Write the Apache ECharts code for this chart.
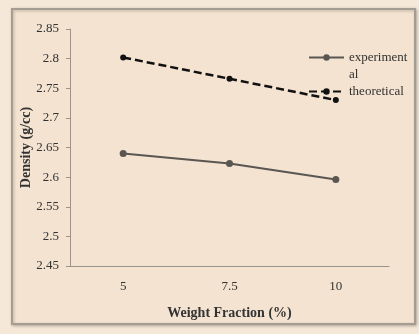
<!DOCTYPE html>
<html>
<head>
<meta charset="utf-8">
<script src="https://cdn.jsdelivr.net/npm/echarts@6/dist/echarts.min.js"></script>
<style>
  html, body { margin: 0; padding: 0; background: #f6e8d8; }
  #chart { width: 419px; height: 334px; }
</style>
</head>
<body>
<div id="chart"></div>
<script>
// Weight fraction categories (%)
const weightFractions = ['5', '7.5', '10'];
// Measured density (g/cc)
const experimentalDensity = [2.640, 2.623, 2.596];
// Rule-of-mixtures density (g/cc)
const theoreticalDensity = [2.802, 2.766, 2.730];
// Density axis range and step
const densityMin = 2.45;
const densityMax = 2.85;
const densityStep = 0.05;

const serif = "'Liberation Serif', 'Times New Roman', serif";
const chart = echarts.init(document.getElementById('chart'), null, { renderer: 'canvas' });

chart.setOption({
  backgroundColor: '#f6e8d8',
  animation: false,
  graphic: [{
    type: 'rect',
    z: -10,
    shape: { x: 12, y: 9, width: 403, height: 315 },
    style: {
      fill: '#f3e3d0',
      stroke: '#a59d94',
      lineWidth: 2,
      shadowColor: 'rgba(90,80,70,0.35)',
      shadowBlur: 3,
      shadowOffsetX: 1,
      shadowOffsetY: 1
    }
  }],
  grid: { left: 70, top: 29, right: 30, bottom: 68 },
  legend: {
    orient: 'vertical',
    left: 303,
    top: 27,
    itemWidth: 35,
    itemHeight: 8,
    itemGap: 0,
    data: ['experimental', 'theoretical'],
    // the wrapped label keeps its first line level with the legend line
    formatter: function (name) {
      return name === 'experimental' ? ' \nexperiment\nal' : name;
    },
    textStyle: { fontFamily: serif, fontSize: 13, color: '#333', lineHeight: 17 }
  },
  xAxis: {
    type: 'category',
    data: weightFractions,
    boundaryGap: true,
    name: 'Weight Fraction (%)',
    nameLocation: 'middle',
    nameGap: 40,
    nameTextStyle: { fontFamily: serif, fontSize: 14, fontWeight: 'bold', color: '#333' },
    axisLine: { lineStyle: { color: '#9a948e', width: 1 } },
    axisTick: { alignWithLabel: true, length: 4, lineStyle: { color: '#9a948e' } },
    axisLabel: { fontFamily: serif, fontSize: 13, color: '#333', margin: 14 },
    splitLine: { show: false }
  },
  yAxis: {
    type: 'value',
    min: densityMin,
    max: densityMax,
    interval: densityStep,
    name: 'Density (g/cc)',
    nameLocation: 'middle',
    nameGap: 37,
    nameMoveOverlap: false,
    nameRotate: 90,
    nameTextStyle: { fontFamily: serif, fontSize: 14, fontWeight: 'bold', color: '#333' },
    axisLine: { show: true, lineStyle: { color: '#9a948e', width: 1 } },
    axisTick: { show: true, length: 4, lineStyle: { color: '#9a948e' } },
    axisLabel: {
      fontFamily: serif, fontSize: 13, color: '#333', margin: 11,
      formatter: function (v) { return String(Math.round(v * 100) / 100); }
    },
    splitLine: { show: false }
  },
  series: [
    {
      name: 'experimental',
      type: 'line',
      data: experimentalDensity,
      symbol: 'circle',
      symbolSize: 7,
      lineStyle: { color: '#5a5652', width: 2 },
      itemStyle: { color: '#5a5652' }
    },
    {
      name: 'theoretical',
      type: 'line',
      data: theoreticalDensity,
      symbol: 'circle',
      symbolSize: 6,
      lineStyle: { color: '#111', width: 2.5, type: [8, 4] },
      itemStyle: { color: '#111' }
    }
  ]
});
</script>
</body>
</html>
